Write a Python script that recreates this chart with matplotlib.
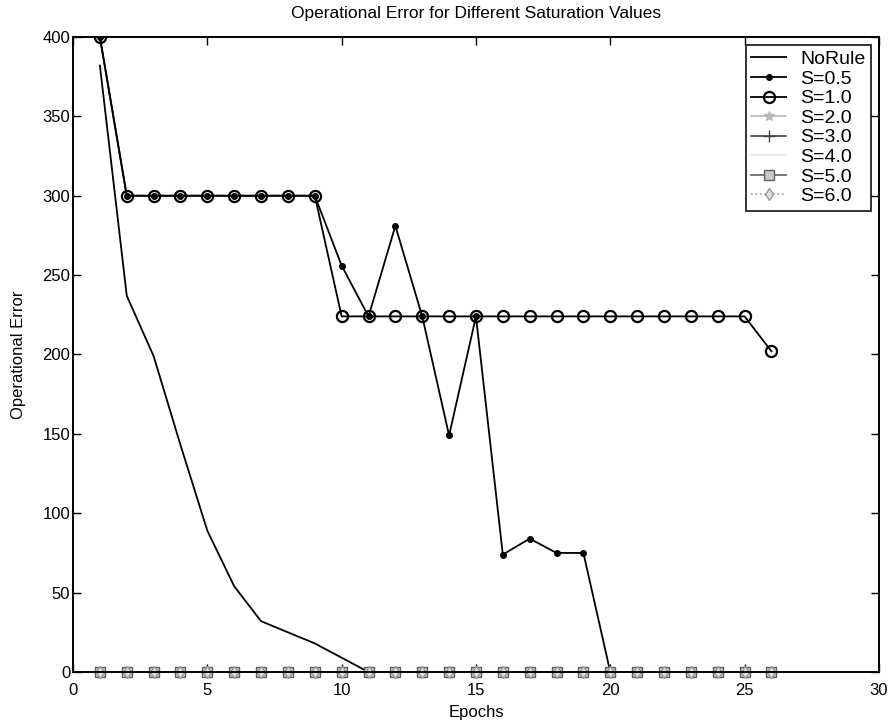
"""Operational error vs epochs for different saturation values"""

import numpy as np
import matplotlib
matplotlib.use("Agg")
import matplotlib.pyplot as plt

# data
epochs_norule = [1, 2, 3, 4, 5, 6, 7, 8, 9, 10, 11]
err_norule = [382, 237, 199, 143, 89, 54, 32, 25, 18, 9, 0]

epochs_s05 = list(range(1, 21))
err_s05 = [400, 300, 300, 300, 300, 300, 300, 300, 300, 256,
           224, 281, 224, 149, 224, 74, 84, 75, 75, 0]

epochs_s10 = list(range(1, 27))
err_s10 = [400, 300, 300, 300, 300, 300, 300, 300, 300, 224,
           224, 224, 224, 224, 224, 224, 224, 224, 224, 224,
           224, 224, 224, 224, 224, 202]

epochs_zero = list(range(1, 27))
err_s20 = [0] * 26
err_s30 = [0] * 26
err_s40 = [0] * 26
err_s50 = [0] * 26
err_s60 = [0] * 26

plt.rcParams['font.family'] = ['Liberation Sans', 'DejaVu Sans']

fig = plt.figure(figsize=(8.95, 7.25), dpi=100)
ax = fig.add_axes([0.0816, 0.0731, 0.9004, 0.8759])

ax.plot(epochs_norule, err_norule, '-', color='black', lw=1.3, label='NoRule')
ax.plot(epochs_s05, err_s05, '-', color='black', lw=1.3, marker='.', ms=8,
        label='S=0.5')
ax.plot(epochs_s10, err_s10, '-', color='black', lw=1.3, marker='o', ms=8,
        mfc='none', mew=1.6, label='S=1.0')
ax.plot(epochs_zero, err_s20, '-', color='#b8b8b8', lw=1.2, marker='*', ms=7,
        label='S=2.0', clip_on=False)
ax.plot(epochs_zero, err_s30, '-', color='#404040', lw=1.2, marker='+', ms=8,
        label='S=3.0', clip_on=False)
ax.plot(epochs_zero, err_s40, '-', color='#e6e6e6', lw=1.2,
        label='S=4.0', clip_on=False)
ax.plot(epochs_zero, err_s50, '-', color='#606060', lw=1.2, marker='s', ms=7,
        mfc='#c8c8c8', label='S=5.0', clip_on=False)
ax.plot(epochs_zero, err_s60, ':', color='#9a9a9a', lw=1.2, marker='d', ms=6,
        mfc='#e0e0e0', label='S=6.0', clip_on=False)

ax.set_xlim(0, 30)
ax.set_ylim(0, 400)
ax.set_xticks(np.arange(0, 31, 5))
ax.set_yticks(np.arange(0, 401, 50))
ax.tick_params(direction='in', top=True, right=True, length=6, width=1,
               labelsize=12)
ax.tick_params(axis='x', pad=8)
ax.tick_params(axis='y', pad=2)
for s in ax.spines.values():
    s.set_linewidth(1.4)

ax.set_xlabel('Epochs', fontsize=12, labelpad=5)
ax.set_ylabel('Operational Error', fontsize=12, labelpad=12)
ax.set_title('Operational Error for Different Saturation Values',
             fontsize=12.5, pad=14)

leg = ax.legend(loc='upper right', prop={'size': 14},
                frameon=True, fancybox=False, edgecolor='black',
                borderaxespad=0.4, handlelength=1.8, labelspacing=0.1,
                borderpad=0.3, handletextpad=0.7)
leg.get_frame().set_linewidth(1.4)

fig.savefig('out.png', dpi=100)
